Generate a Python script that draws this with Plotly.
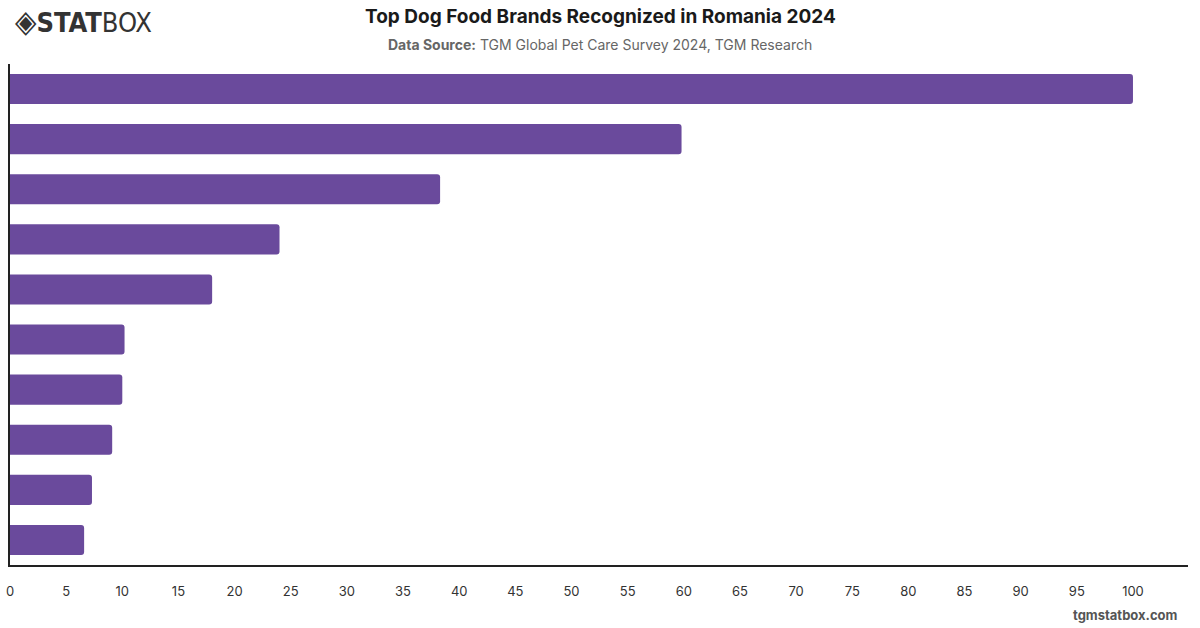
import plotly.graph_objects as go

brands = ["Brand 1", "Brand 2", "Brand 3", "Brand 4", "Brand 5",
          "Brand 6", "Brand 7", "Brand 8", "Brand 9", "Brand 10"]
values = [100, 59.8, 38.3, 24.0, 18.0, 10.2, 10.0, 9.1, 7.3, 6.6]
tick_vals = list(range(0, 101, 5))
tick_text = [str(v) for v in tick_vals]

W, H = 1200, 628
L, R, T, B = 10, 12, 64, 63
PW, PH = W - L - R, H - T - B


def px(x, y):
    return (x - L) / PW, 1 - (y - T) / PH


fig = go.Figure(go.Bar(
    x=values, y=brands, orientation="h",
    marker=dict(color="#6a4a9c", line=dict(width=0)),
    width=0.6, hoverinfo="x+y",
))

annots = []


def add(text, x, y, xanchor, size, color, family=None):
    ax, ay = px(x, y)
    f = dict(size=size, color=color)
    if family:
        f["family"] = family
    annots.append(dict(text=text, x=ax, y=ay, xref="paper", yref="paper",
                       showarrow=False, xanchor=xanchor, yanchor="middle", font=f))


add("<b>Top Dog Food Brands Recognized in Romania 2024</b>", 600, 17, "center", 19, "#1a1a1a")
add("<b>Data Source:</b> TGM Global Pet Care Survey 2024, TGM Research", 600, 44, "center", 14, "#666")
add("<b>tgmstatbox.com</b>", 1180, 615, "right", 13, "#555")
add("<span style='font-size:31px'>◈</span><b>STAT</b>BOX", 13, 21, "left", 27, "#333",
    "DejaVu Sans Condensed, DejaVu Sans, sans-serif")

fig.update_layout(
    width=W, height=H,
    margin=dict(l=L, r=R, t=T, b=B, autoexpand=False),
    paper_bgcolor="white", plot_bgcolor="white",
    font=dict(family="Inter, Roboto, sans-serif", color="#333"),
    barcornerradius=3,
    showlegend=False,
    xaxis=dict(range=[0, 104.9], tickvals=tick_vals, ticktext=tick_text,
               showgrid=False, zeroline=False, showline=True, linecolor="#222",
               linewidth=1.5, ticks="", tickfont=dict(size=13, color="#333"),
               ticklabelstandoff=14, fixedrange=True, automargin=False),
    yaxis=dict(showticklabels=False, showgrid=False,
               zeroline=False, showline=True, linecolor="#222", linewidth=1.5,
               ticks="", range=[9.5, -0.5], fixedrange=True, automargin=False),
    annotations=annots,
)

fig.write_html("out.html")
